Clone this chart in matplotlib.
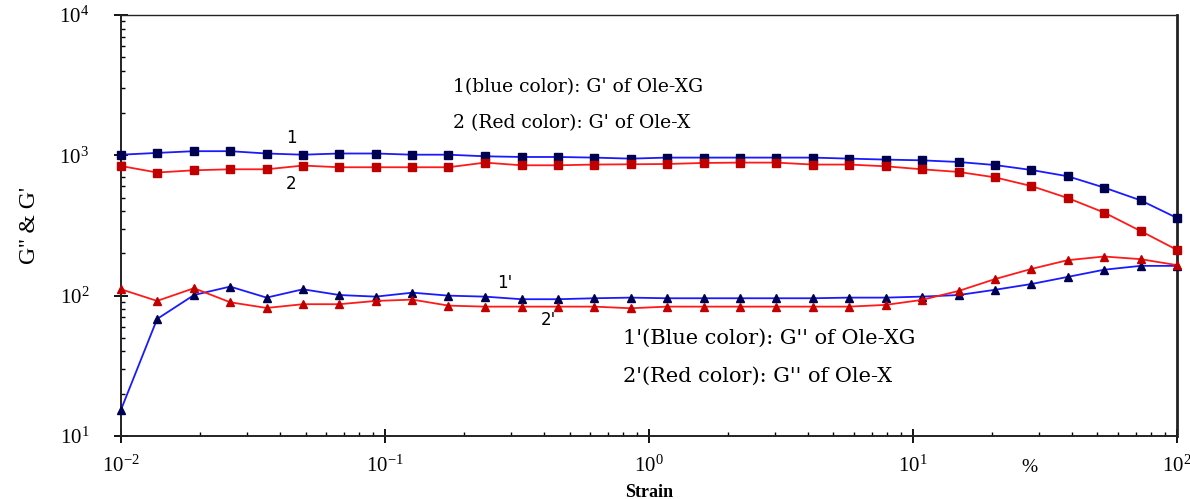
import matplotlib
matplotlib.use("Agg")
import matplotlib.pyplot as plt
from matplotlib.ticker import LogLocator, NullFormatter
import matplotlib.transforms as mtransforms

plt.rcParams['font.family'] = ['Liberation Serif', 'DejaVu Serif']
plt.rcParams['mathtext.fontset'] = 'stix'

strain = [0.01, 0.0137, 0.0189, 0.0259, 0.0356, 0.0489, 0.0672, 0.0924, 0.127, 0.174,
          0.239, 0.329, 0.452, 0.621, 0.853, 1.17, 1.61, 2.21, 3.04, 4.18,
          5.74, 7.88, 10.8, 14.9, 20.4, 28.1, 38.6, 53.0, 72.8, 100]

g1_blue_Gp = [1010, 1040, 1070, 1070, 1030, 1010, 1030, 1030, 1010, 1010,
              984, 973, 973, 963, 947, 963, 963, 963, 963, 963,
              947, 932, 921, 896, 853, 786, 709, 589, 478, 358]

g2_red_Gp = [839, 754, 782, 795, 795, 845, 822, 822, 822, 822,
             887, 849, 849, 859, 863, 867, 882, 887, 887, 859,
             859, 835, 795, 761, 697, 604, 496, 391, 289, 212]

g1_blue_Gpp = [15.4, 68.2, 101, 116, 96.8, 111, 101, 98.4, 105, 100,
               98.4, 94.3, 94.3, 95.8, 96.8, 95.8, 95.8, 95.8, 95.8, 95.8,
               96.8, 96.8, 98.4, 101, 110, 121, 136, 153, 163, 163]

g2_red_Gpp = [111, 91.7, 113, 89.7, 81.7, 86.9, 86.9, 91.7, 93.7, 84.9,
              83.5, 83.5, 83.5, 83.5, 81.3, 83.5, 83.5, 83.5, 83.5, 83.5,
              83.5, 85.9, 93.2, 108, 131, 155, 179, 190, 182, 165]

fig = plt.figure(figsize=(11.90, 4.99), dpi=100)
ax = fig.add_axes([0.1017, 0.1263, 0.8873, 0.8437])

blue_line = '#1a1aff'
blue_mk = '#000050'
red_line = '#ff1a1a'
red_mk = '#c00000'

ax.plot(strain, g1_blue_Gp, '-', color=blue_line, lw=1.3, marker='s', ms=5.5,
        mfc=blue_mk, mec=blue_mk, clip_on=False, zorder=3)
ax.plot(strain, g2_red_Gp, '-', color=red_line, lw=1.3, marker='s', ms=5.5,
        mfc=red_mk, mec=red_mk, clip_on=False, zorder=3)
ax.plot(strain, g1_blue_Gpp, '-', color=blue_line, lw=1.3, marker='^', ms=6,
        mfc=blue_mk, mec=blue_mk, clip_on=False, zorder=3)
ax.plot(strain, g2_red_Gpp, '-', color=red_line, lw=1.3, marker='^', ms=6,
        mfc=red_mk, mec=red_mk, clip_on=False, zorder=3)

ax.set_xscale('log')
ax.set_yscale('log')
ax.set_xlim(1e-2, 1e2)
ax.set_ylim(1e1, 1e4)

ax.xaxis.set_major_locator(LogLocator(base=10, numticks=10))
ax.yaxis.set_major_locator(LogLocator(base=10, numticks=10))
ax.xaxis.set_minor_locator(LogLocator(base=10, subs=range(2, 10), numticks=20))
ax.yaxis.set_minor_locator(LogLocator(base=10, subs=range(2, 10), numticks=20))
ax.xaxis.set_minor_formatter(NullFormatter())
ax.yaxis.set_minor_formatter(NullFormatter())

ax.tick_params(which='major', direction='inout', length=10, width=1.3,
               labelsize=15, top=False, right=False)
ax.tick_params(axis='x', which='major', pad=9)
ax.tick_params(axis='y', which='major', pad=18)
ax.tick_params(which='minor', direction='in', length=3, width=1,
               top=False, right=False)

for s in ['left', 'bottom']:
    ax.spines[s].set_linewidth(1.4)
ax.spines['right'].set_linewidth(2.0)
ax.spines['top'].set_linewidth(1.0)
for s in ax.spines.values():
    s.set_color('#222222')

ax.set_ylabel("G'' & G'", fontsize=17, labelpad=14)
ax.set_xlabel("Strain", fontsize=13, fontweight='bold', labelpad=5)

trans = mtransforms.blended_transform_factory(ax.transData, ax.transAxes)
ax.text(27.7, -0.055, '%', transform=trans, fontsize=14, ha='center', va='top')


def px(xp, yp):
    return fig.transFigure.inverted().transform((xp, 499 - yp))


for lab, xp, yp, fs in [("1(blue color): G' of Ole-XG", 453, 87, 13.5),
                        ("2 (Red color): G' of Ole-X", 453, 123, 13.5),
                        ("1'(Blue color): G'' of Ole-XG", 623, 338, 15),
                        ("2'(Red color): G'' of Ole-X", 623, 376, 15)]:
    fx, fy = px(xp, yp)
    fig.text(fx, fy, lab, fontsize=fs, family='DejaVu Serif', ha='left', va='center')

for lab, xp, yp in [("1", 291, 138), ("2", 291, 184), ("1'", 505, 283), ("2'", 548, 320)]:
    fx, fy = px(xp, yp)
    fig.text(fx, fy, lab, fontsize=12, family='DejaVu Sans', ha='center', va='center')

fig.savefig('out.png', dpi=100)
